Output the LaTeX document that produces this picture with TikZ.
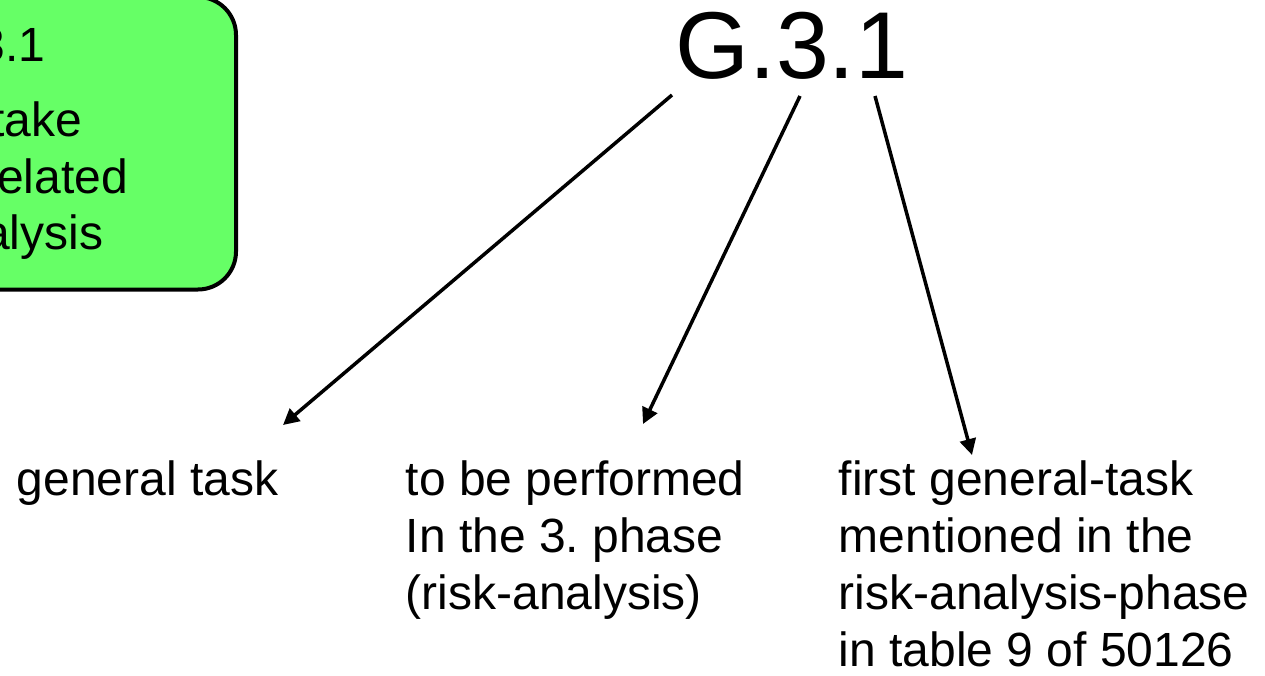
\documentclass[tikz,border=0pt]{standalone}
\usepackage{fontspec}
\setmainfont{Liberation Sans}
\usetikzlibrary{arrows.meta}
\frenchspacing
\definecolor{boxgreen}{RGB}{102,255,102}
\tikzset{
  caption/.style={anchor=base west, inner sep=0pt, font=\fontsize{48}{57.3}\selectfont},
  boxline/.style={anchor=base east, inner sep=0pt, font=\fontsize{48}{57.3}\selectfont},
  pointer/.style={draw=black, line width=3.5pt, -{Triangle[length=16pt,width=16pt]}},
  greenbox/.style={draw=black, line width=4pt, fill=boxgreen, rounded corners=38pt}
}
\begin{document}
\begin{tikzpicture}[x=1pt, y=-1pt]
  \clip (0,0) rectangle (1265,676);
  \fill[white] (0,0) rectangle (1265,676);

  % green task box (runs off the left edge)
  \draw[greenbox] (-400,-3) rectangle (236,289.5);
  \node[boxline] (b1) at (45.5,62) {3.1};
  \node[boxline] (b2) at (82.3,137) {take};
  \node[boxline] (b3) at (128,193.5) {elated};
  \node[boxline] (b4) at (103.3,250) {alysis};

  % task code
  \node[anchor=base west, inner sep=0pt, font=\fontsize{95}{110}\selectfont] (G) at (675.5,79) {G.3.1};

  % explanations
  \node[caption] (l1) at (16.5,495) {general task};
  \node[caption] (l2) at (405.5,495) {\begin{tabular}[t]{@{}l@{}}to be performed\\In the 3. phase\\(risk-analysis)\end{tabular}};
  \node[caption] (l3) at (838.5,495) {\begin{tabular}[t]{@{}l@{}}first general-task\\mentioned in the\\risk-analysis-phase\\in table 9 of 50126\end{tabular}};

  % arrow ends
  \coordinate (s1) at (672,95);
  \coordinate (s2) at (800,96);
  \coordinate (s3) at (875,96);
  \coordinate (t1) at (283,425);
  \coordinate (t2) at (643,424);
  \coordinate (t3) at (972,455);

  \draw[pointer] (s1) -- (t1);
  \draw[pointer] (s2) -- (t2);
  \draw[pointer] (s3) -- (t3);
\end{tikzpicture}
\end{document}
